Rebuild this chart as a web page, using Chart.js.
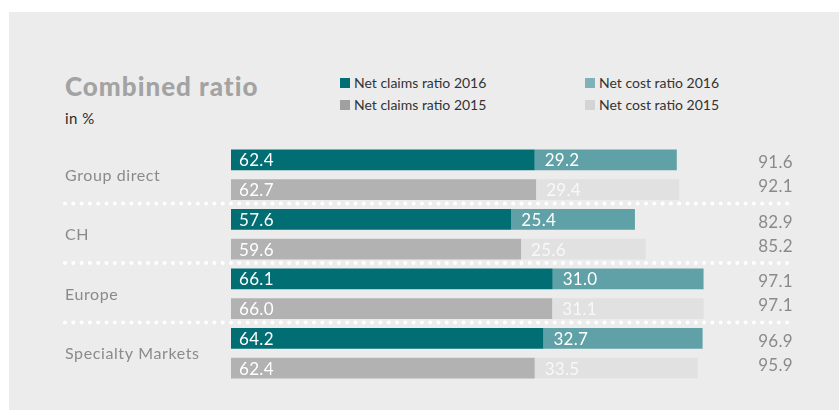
<!DOCTYPE html>
<html>
<head>
<meta charset="utf-8">
<script src="https://cdn.jsdelivr.net/npm/chart.js@4/dist/chart.umd.min.js"></script>
<style>
  html, body { margin: 0; padding: 0; background: #ffffff; }
  body { width: 839px; height: 410px; position: relative; overflow: hidden; font-family: Lato, "Open Sans", sans-serif; }
  #panel { position: absolute; left: 9px; top: 12px; width: 830px; height: 398px; background: #ececec; }
  #title { position: absolute; left: 65px; top: 70px; font-size: 26px; font-weight: 900; color: #a3a3a3; letter-spacing: 1px; }
  #sub { position: absolute; left: 65px; top: 109px; font-size: 15px; color: #2b2b2b; letter-spacing: 0.5px; }
  .lg { position: absolute; font-size: 14px; color: #333; white-space: nowrap; }
  .lg span { display: inline-block; width: 10px; height: 10px; margin-right: 4px; vertical-align: 0px; }
  #wrap { position: absolute; left: 0; top: 0; width: 839px; height: 410px; }
</style>
</head>
<body>
<div id="panel"></div>
<div id="title">Combined ratio</div>
<div id="sub">in %</div>
<div id="legend"></div>
<div id="wrap"><canvas id="c" width="839" height="410"></canvas></div>
<script>
const categories = ["Group direct", "CH", "Europe", "Specialty Markets"];
const claims2016 = [62.4, 57.6, 66.1, 64.2];
const cost2016   = [29.2, 25.4, 31.0, 32.7];
const claims2015 = [62.7, 59.6, 66.0, 62.4];
const cost2015   = [29.4, 25.6, 31.1, 33.5];
const total2016  = [91.6, 82.9, 97.1, 96.9];
const total2015  = [92.1, 85.2, 97.1, 95.9];
const seriesLabels = ["Net claims ratio 2016", "Net cost ratio 2016", "Net claims ratio 2015", "Net cost ratio 2015"];

const barColors = ["#006e73", "#5fa1a6", "#b2b2b3", "#e1e1e1"];
const legendColors = ["#006e73", "#7fb2b6", "#a0a0a0", "#d4d4d4"];

// HTML legend (2 x 2)
const legendPos = [[340, 74], [585, 74], [340, 96], [585, 96]];
const legendEl = document.getElementById('legend');
seriesLabels.forEach((lab, i) => {
  const d = document.createElement('div');
  d.className = 'lg';
  d.style.left = legendPos[i][0] + 'px';
  d.style.top = legendPos[i][1] + 'px';
  d.innerHTML = '<span style="background:' + legendColors[i] + '"></span>' + lab;
  legendEl.appendChild(d);
});

const FONT = 'Lato, "Open Sans", sans-serif';

const decorPlugin = {
  id: 'decor',
  beforeDatasetsDraw(chart) {
    const ctx = chart.ctx;
    const y = chart.scales.y;
    ctx.save();
    ctx.fillStyle = '#ffffff';
    for (let i = 0; i < categories.length - 1; i++) {
      const py = (y.getPixelForValue(i) + y.getPixelForValue(i + 1)) / 2 - 1;
      for (let x = 65; x <= 794; x += 8.3) {
        ctx.beginPath();
        ctx.arc(x, py, 2, 0, Math.PI * 2);
        ctx.fill();
      }
    }
    // category labels
    ctx.font = '16px ' + FONT;
    if ('letterSpacing' in ctx) ctx.letterSpacing = '0.6px';
    ctx.fillStyle = '#8a8a8a';
    ctx.textAlign = 'left';
    ctx.textBaseline = 'middle';
    categories.forEach((c, i) => {
      ctx.fillText(c, 65, y.getPixelForValue(i) + 1);
    });
    ctx.restore();
  },
  afterDatasetsDraw(chart) {
    const ctx = chart.ctx;
    ctx.save();
    ctx.font = '17px ' + FONT;
    if ('letterSpacing' in ctx) ctx.letterSpacing = '0.3px';
    ctx.textBaseline = 'middle';
    ctx.textAlign = 'left';
    chart.data.datasets.forEach((ds, di) => {
      const meta = chart.getDatasetMeta(di);
      meta.data.forEach((el, i) => {
        const start = Math.min(el.base, el.x);
        ctx.fillStyle = di === 3 ? '#f8f8f8' : '#ffffff';
        ctx.fillText(ds.data[i].toFixed(1), start + (di % 2 === 0 ? 8 : 10), el.y + 1);
      });
    });
    // totals
    ctx.fillStyle = '#8a8a8a';
    ctx.textAlign = 'right';
    const m16 = chart.getDatasetMeta(0), m15 = chart.getDatasetMeta(2);
    total2016.forEach((v, i) => ctx.fillText(v.toFixed(1), 793, m16.data[i].y + 3));
    total2015.forEach((v, i) => ctx.fillText(v.toFixed(1), 793, m15.data[i].y - 3));
    ctx.restore();
  }
};

new Chart(document.getElementById('c'), {
  type: 'bar',
  data: {
    labels: categories,
    datasets: [
      { label: seriesLabels[0], data: claims2016, backgroundColor: barColors[0], stack: 's2016' },
      { label: seriesLabels[1], data: cost2016,   backgroundColor: barColors[1], stack: 's2016' },
      { label: seriesLabels[2], data: claims2015, backgroundColor: barColors[2], stack: 's2015' },
      { label: seriesLabels[3], data: cost2015,   backgroundColor: barColors[3], stack: 's2015' }
    ]
  },
  options: {
    indexAxis: 'y',
    responsive: false,
    animation: false,
    events: [],
    layout: { padding: { left: 231, right: 24, top: 145, bottom: 27 } },
    datasets: { bar: { categoryPercentage: 1.0, barPercentage: 0.7, borderWidth: 0 } },
    scales: {
      x: { stacked: true, min: 0, max: 120, display: false },
      y: { display: false, offset: true }
    },
    plugins: { legend: { display: false }, tooltip: { enabled: false }, title: { display: false } }
  },
  plugins: [decorPlugin]
});
</script>
</body>
</html>
